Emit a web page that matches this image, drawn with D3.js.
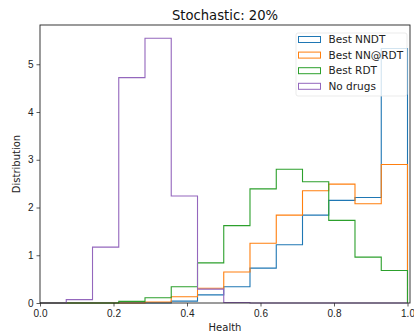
<!DOCTYPE html>
<html>
<head>
<meta charset="utf-8">
<script src="https://cdn.jsdelivr.net/npm/d3@7"></script>
<style>
  body { margin: 0; background: #fff; }
  svg { font-family: "DejaVu Sans", sans-serif; }
</style>
</head>
<body>
<div id="chart"></div>
<script>
// bin edges (14 equal bins on [0, 1])
const binEdges = [0, 0.0714, 0.1429, 0.2143, 0.2857, 0.3571, 0.4286, 0.5,
  0.5714, 0.6429, 0.7143, 0.7857, 0.8571, 0.9286, 1.0];

// density per bin
const bestNNDT  = [0, 0, 0, 0, 0, 0.04, 0.17, 0.34, 0.73, 1.22, 1.84, 2.15, 2.21, 5.33];
const bestNNRDT = [0, 0, 0, 0, 0.02, 0.13, 0.31, 0.65, 1.25, 1.84, 2.35, 2.49, 2.08, 2.90];
const bestRDT   = [0, 0, 0, 0.035, 0.11, 0.34, 0.84, 1.62, 2.39, 2.80, 2.54, 1.73, 0.96, 0.68];
const noDrugs   = [0, 0.07, 1.17, 4.72, 5.545, 2.24, 0.29, 0.01, 0, 0, 0, 0, 0, 0];

const seriesNames = ["Best NNDT", "Best NN@RDT", "Best RDT", "No drugs"];
const seriesValues = [bestNNDT, bestNNRDT, bestRDT, noDrugs];
const colors = ["#1f77b4", "#ff7f0e", "#2ca02c", "#9467bd"];

const xTicks = [0, 0.2, 0.4, 0.6, 0.8, 1.0];
const yTicks = [0, 1, 2, 3, 4, 5];

const W = 414, H = 336;
const margin = {top: 25, right: 4, bottom: 33, left: 40};

const svg = d3.select("#chart").append("svg")
  .attr("width", W).attr("height", H);

const x = d3.scaleLinear().domain([0, 1.0068]).range([margin.left, W - margin.right]);
const y = d3.scaleLinear().domain([0, 5.822]).range([H - margin.bottom, margin.top]);

// step outlines, one per series
seriesValues.forEach((vals, s) => {
  const pts = [[binEdges[0], 0]];
  vals.forEach((v, i) => {
    pts.push([binEdges[i], v]);
    pts.push([binEdges[i + 1], v]);
  });
  pts.push([binEdges[binEdges.length - 1], 0]);
  svg.append("path")
    .attr("d", d3.line().x(d => x(d[0])).y(d => y(d[1]))(pts))
    .attr("fill", "none")
    .attr("stroke", colors[s])
    .attr("stroke-width", 1.1);
});

// axes
const xAxis = d3.axisBottom(x).tickValues(xTicks).tickFormat(d3.format(".1f")).tickSizeOuter(0).tickSize(3.5).tickPadding(3);
const yAxis = d3.axisLeft(y).tickValues(yTicks).tickFormat(d3.format("d")).tickSizeOuter(0).tickSize(3.5).tickPadding(3);

const gx = svg.append("g").attr("transform", `translate(0,${H - margin.bottom})`).call(xAxis);
const gy = svg.append("g").attr("transform", `translate(${margin.left},0)`).call(yAxis);
[gx, gy].forEach(g => {
  g.select(".domain").remove();
  g.selectAll("line").attr("stroke", "#333").attr("stroke-width", 0.8);
  g.selectAll("text").attr("fill", "#222").style("font-size", "10px");
});

// frame
svg.append("rect")
  .attr("x", margin.left).attr("y", margin.top)
  .attr("width", W - margin.right - margin.left)
  .attr("height", H - margin.bottom - margin.top)
  .attr("fill", "none").attr("stroke", "#222").attr("stroke-width", 0.9);

// title and labels
svg.append("text")
  .attr("x", (margin.left + W - margin.right) / 2).attr("y", 19.5)
  .attr("text-anchor", "middle").style("font-size", "13.2px").attr("fill", "#111")
  .text("Stochastic: 20%");

svg.append("text")
  .attr("x", (margin.left + W - margin.right) / 2).attr("y", 331)
  .attr("text-anchor", "middle").style("font-size", "10px").attr("fill", "#222")
  .text("Health");

svg.append("text")
  .attr("transform", `translate(19.5,${(margin.top + H - margin.bottom) / 2}) rotate(-90)`)
  .attr("text-anchor", "middle").style("font-size", "10px").attr("fill", "#222")
  .text("Distribution");

// legend
const legend = svg.append("g");
legend.append("rect")
  .attr("x", 296).attr("y", 33).attr("width", 111).attr("height", 63).attr("rx", 2)
  .attr("fill", "#fff").attr("fill-opacity", 0.8)
  .attr("stroke", "#e6e6e6").attr("stroke-width", 0.8);

seriesNames.forEach((name, i) => {
  const cy = 39.5 + i * 15.6;
  legend.append("rect")
    .attr("x", 298.5).attr("y", cy - 3).attr("width", 22).attr("height", 6)
    .attr("fill", "none").attr("stroke", colors[i]).attr("stroke-width", 1);
  legend.append("text")
    .attr("x", 328.5).attr("y", cy + 3.7)
    .style("font-size", "10.5px").attr("fill", "#222")
    .text(name);
});
</script>
</body>
</html>
